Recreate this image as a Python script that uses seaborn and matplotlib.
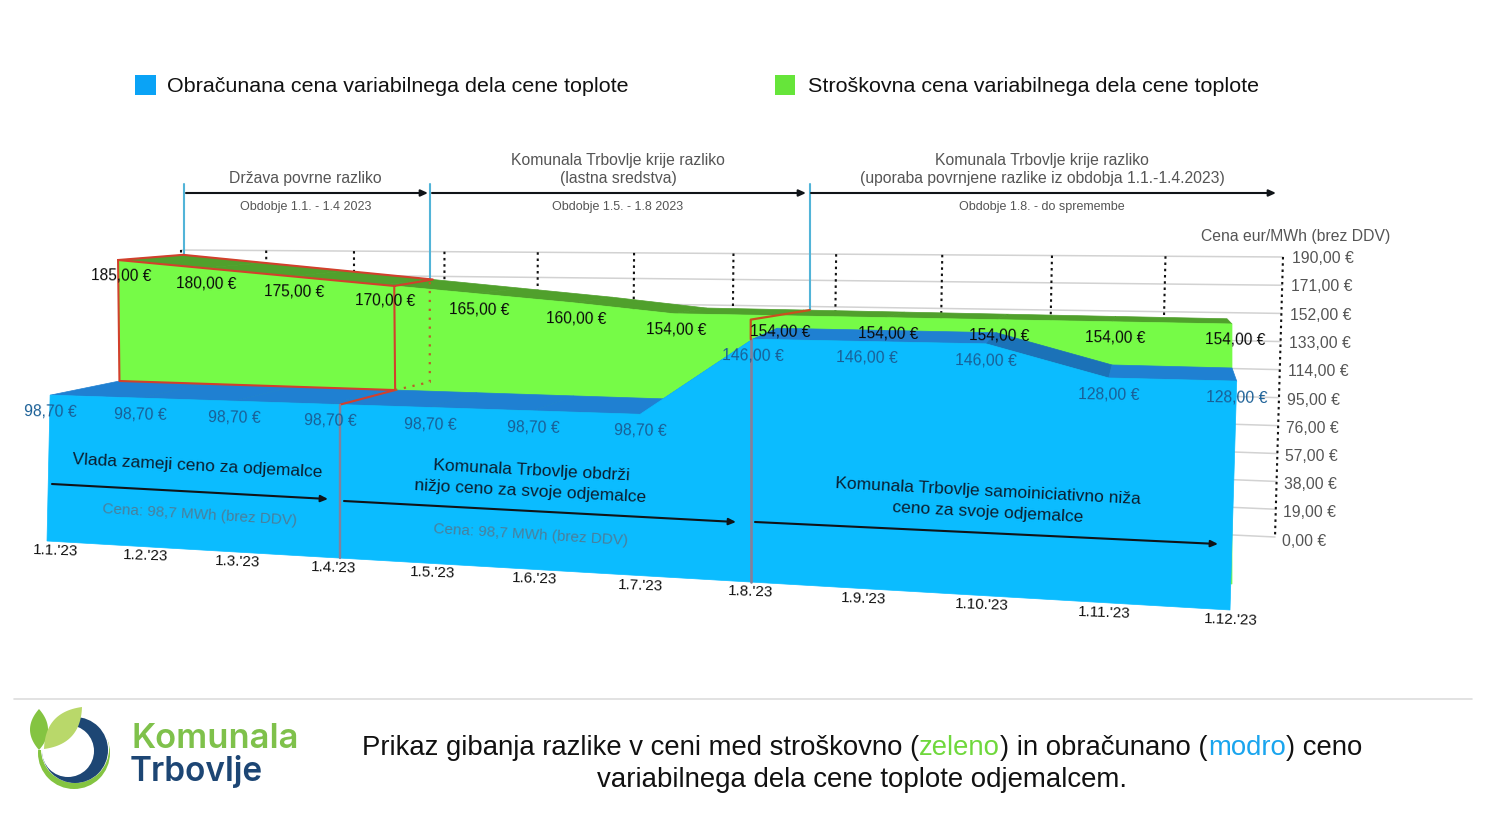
#!/usr/bin/env python3
# -*- coding: utf-8 -*-
"""
Prikaz gibanja razlike med stroskovno in obracunano ceno toplote (3D pogled)
"""

import numpy as np
import pandas as pd
import matplotlib
matplotlib.use('Agg')
import matplotlib.pyplot as plt
from matplotlib.patches import Rectangle, Polygon, Circle, Wedge
import seaborn as sns

# podatki
months = ["1.1.'23", "1.2.'23", "1.3.'23", "1.4.'23", "1.5.'23", "1.6.'23",
          "1.7.'23", "1.8.'23", "1.9.'23", "1.10.'23", "1.11.'23", "1.12.'23"]
billed_price = [98.7, 98.7, 98.7, 98.7, 98.7, 98.7, 98.7, 146, 146, 146, 128, 128]
cost_price = [185, 180, 175, 170, 165, 160, 154, 154, 154, 154, 154, 154]
axis_ticks = [190, 171, 152, 133, 114, 95, 76, 57, 38, 19, 0]

BLUE = '#0bbcff'
BLUE_TOP = '#1f80d2'
BLUE_SLOPE = '#1b72b8'
GREEN = '#76fb47'
GREEN_TOP = '#50a02c'
RED = '#d2402c'
GREY = '#555555'
N = len(months) - 1
VMAX = 190.0


def make_plane(corners):
    """Homografija iz (mesec, cena) v piksle; vogali: (0,0), (N,0), (0,max), (N,max)."""
    src = [(0, 0), (1, 0), (0, 1), (1, 1)]
    a, b = [], []
    for (u, v), (x, y) in zip(src, corners):
        a.append([u, v, 1, 0, 0, 0, -u * x, -v * x])
        a.append([0, 0, 0, u, v, 1, -u * y, -v * y])
        b += [x, y]
    h = np.append(np.linalg.solve(np.array(a, float), np.array(b, float)), 1).reshape(3, 3)

    def project(m, value):
        m, value = np.atleast_1d(m, value)
        p = np.stack([m / N, value / VMAX, np.ones_like(m / N)])
        q = h @ p
        return q[0] / q[2], q[1] / q[2]
    return project


# ravnine perspektive: modra spredaj, modra zadaj / zelena spredaj, zelena zadaj, zadnja stena
front = make_plane([(47, 541), (1230, 610), (53, 260), (1240, 270)])
middle = make_plane([(121, 519), (1232, 584), (118, 253), (1232, 263)])
back = make_plane([(183, 508), (1227, 570), (183, 248), (1227, 260)])
wall = make_plane([(183, 485), (1275, 537), (181, 250), (1283, 257)])

sns.set_theme(style='white')
plt.rcParams['font.family'] = ['Liberation Sans', 'DejaVu Sans']

fig = plt.figure(figsize=(14.9, 8.31), dpi=100)
ax = fig.add_axes([0, 0, 1, 1])
ax.set_xlim(0, 1490)
ax.set_ylim(831, 0)
ax.axis('off')

idx = np.arange(len(months), dtype=float)
blue = np.array(billed_price, dtype=float)
green = np.array(cost_price, dtype=float)


def line(x, y, **kw):
    df = pd.DataFrame({'x': np.ravel(x), 'y': np.ravel(y)})
    sns.lineplot(data=df, x='x', y='y', ax=ax, sort=False, estimator=None,
                 legend=False, **kw)


def area(plane, values):
    x0, y0 = plane(idx, np.zeros_like(idx))
    x1, y1 = plane(idx, values)
    return np.r_[np.c_[x1, y1], np.c_[x0, y0][::-1]]


def band(p_near, p_far, values, colors, z):
    xa, ya = p_near(idx, values)
    xb, yb = p_far(idx, values)
    for i in range(N):
        color = colors(i) if callable(colors) else colors
        ax.add_patch(Polygon([(xa[i], ya[i]), (xa[i + 1], ya[i + 1]),
                              (xb[i + 1], yb[i + 1]), (xb[i], yb[i])],
                             closed=True, fc=color, ec=color, lw=0.5, zorder=z))


# zadnja stena
for tick in axis_ticks:
    x, y = wall(np.array([0.0, N]), np.array([tick, tick], float))
    line(x, y, color='#d2d2d2', linewidth=1.1, zorder=1)
    xr, yr = wall(np.array([float(N)]), np.array([float(tick)]))
    drop = (VMAX - tick) / VMAX
    ax.text(xr[0] + 9 - 2 * drop, yr[0] + 1 + 3 * drop, f'{tick},00 €', fontsize=11.3, color=GREY,
            va='center', ha='left')
for i in idx:
    x, y = wall(np.array([i, i]), np.array([VMAX, 0.0]))
    line(x, y, color='#111111', linewidth=1.5, linestyle=(0, (1.2, 1.8)), zorder=1.5)

# zelena ploskev
band(middle, back, green, GREEN_TOP, 2)
ax.add_patch(Polygon(area(middle, green), closed=True, fc=GREEN, ec=GREEN, lw=0.5, zorder=3))

# modra ploskev
band(front, middle, blue, lambda i: BLUE_SLOPE if i == 9 else BLUE_TOP, 4)
ax.add_patch(Polygon(area(front, blue), closed=True, fc=BLUE, ec=BLUE, lw=0.5, zorder=5))

# rdeca oznaka prvega obdobja
m_front, m_middle, m_back = 3.1, 3.13, 3.0
gx, gy = middle(np.array([0.0, m_middle]), np.interp([0.0, m_middle], idx, green))
bx, by = middle(np.array([0.0, m_middle]), np.interp([0.0, m_middle], idx, blue))
tx, ty = back(np.array([0.0, 1.0, 2.0, m_back]), green[[0, 1, 2, 3]])
fx, fy = front(np.array([m_front]), np.interp([m_front], idx, blue))
line([gx[0], tx[0], tx[3], gx[1], gx[0], bx[0], bx[1], gx[1]],
     [gy[0], ty[0], ty[3], gy[1], gy[0], by[0], by[1], gy[1]],
     color=RED, linewidth=1.5, zorder=6)
line([bx[1], fx[0]], [by[1], fy[0]], color=RED, linewidth=1.5, zorder=6)
wx, wy = back(np.array([m_back, m_back]), np.array([blue[3], green[3]]))
line([bx[1], wx[0] - 3, wx[1] - 3], [by[1], by[1] - 8, wy[1]], color='#b8602a', linewidth=1.6,
     linestyle=(0, (1, 3)), zorder=6)

# razdelilni crti na prednji strani
bx3, by3 = front(np.array([m_front]), np.array([0.0]))
line([fx[0], fx[0]], [fy[0], by3[0]], color='#84809a', linewidth=1.7, zorder=6)
sx, sy = front(np.array([7.0, 7.0]), np.array([blue[7], 0.0]))
line([sx[0] - 2, sx[0] - 2], [sy[0], sy[1]], color='#84809a', linewidth=1.9, zorder=6)
mx, my = middle(np.array([7.0]), np.array([green[7]]))
kx, ky = back(np.array([7.0]), np.array([green[7]]))
line([kx[0] + 6, sx[0] - 2, sx[0] - 2], [ky[0], my[0] + 4, sy[0]], color='#c8501e',
     linewidth=1.6, zorder=6)

# modre navpicnice do obdobij
for m, dx in [(0.0, 1), (3.0, -3), (7.0, 6)]:
    vx, vy = back(np.array([m]), np.array([green[int(m)]]))
    line([vx[0] + dx, vx[0] + dx], [184, vy[0]], color='#52b4d8', linewidth=1.5, zorder=2.5)

# oznake vrednosti
for i, m in enumerate(idx):
    x, y = middle(np.array([m]), np.array([green[i]]))
    ax.text(x[0] + 3, y[0] + 16, f'{cost_price[i]:.2f} €'.replace('.', ','), fontsize=11.2,
            color='#0a0a0a', ha='center', va='center', rotation=-1, zorder=8)
    x, y = front(np.array([m]), np.array([blue[i]]))
    ax.text(x[0], y[0] + 17, f'{billed_price[i]:.2f} €'.replace('.', ','), fontsize=11.3,
            color='#1a5f96', ha='center', va='center', rotation=-1, zorder=8)
    x, y = front(np.array([m]), np.array([0.0]))
    ax.text(x[0] + 9 - 0.73 * m, y[0] + 10, months[i], fontsize=11, color='#111111',
            ha='center', va='center', rotation=-2, zorder=8)


def arrow(x0, y0, x1, y1, z=7):
    ax.annotate('', xy=(x1, y1), xytext=(x0, y0), zorder=z,
                arrowprops=dict(arrowstyle='-|>,head_length=0.35,head_width=0.16',
                                color='#101418', lw=1.5, shrinkA=0, shrinkB=0))


# obdobja nad grafom
arrow(186, 193, 428, 193)
arrow(432, 193, 806, 193)
arrow(811, 193, 1276, 193)
ax.text(305, 178, 'Država povrne razliko', fontsize=11.3, color=GREY, ha='center', va='center')
ax.text(306, 207, 'Obdobje 1.1. - 1.4 2023', fontsize=9, color=GREY, ha='center', va='center')
ax.text(618, 170, 'Komunala Trbovlje krije razliko\n(lastna sredstva)', fontsize=11.3, color=GREY,
        ha='center', va='center', linespacing=1.25)
ax.text(618, 207, 'Obdobje 1.5. - 1.8 2023', fontsize=9, color=GREY, ha='center', va='center')
ax.text(1042, 170, 'Komunala Trbovlje krije razliko\n(uporaba povrnjene razlike iz obdobja 1.1.-1.4.2023)',
        fontsize=11.3, color=GREY, ha='center', va='center', linespacing=1.25)
ax.text(1042, 207, 'Obdobje 1.8. - do spremembe', fontsize=9, color=GREY, ha='center', va='center')
ax.text(1296, 236, 'Cena eur/MWh (brez DDV)', fontsize=11.3, color=GREY, ha='center', va='center')

# besedilo na prednji strani
arrow(52, 484, 328, 499)
arrow(344, 501, 736, 522)
arrow(755, 522, 1218, 544)
ink = '#0a1e30'
ax.text(197, 466, 'Vlada zameji ceno za odjemalce', fontsize=12.5, color=ink, ha='center',
        va='center', rotation=-3, rotation_mode='anchor', zorder=8)
ax.text(200, 515, 'Cena: 98,7 MWh (brez DDV)', fontsize=11, color='#4a7f9c', ha='center',
        va='center', rotation=-3.5, rotation_mode='anchor', zorder=8)
ax.text(531, 481, 'Komunala Trbovlje obdrži\nnižjo ceno za svoje odjemalce', fontsize=12.5, color=ink,
        ha='center', va='center', rotation=-3, rotation_mode='anchor', linespacing=1.5, zorder=8)
ax.text(531, 535, 'Cena: 98,7 MWh (brez DDV)', fontsize=11, color='#4a7f9c', ha='center',
        va='center', rotation=-3.5, rotation_mode='anchor', zorder=8)
ax.text(988, 502, 'Komunala Trbovlje samoiniciativno niža\nceno za svoje odjemalce', fontsize=12.5,
        color=ink, ha='center', va='center', rotation=-3, rotation_mode='anchor', linespacing=1.5, zorder=8)

# legenda
ax.add_patch(Rectangle((135, 75), 21, 20, fc='#0aa3f6', ec='none'))
ax.add_patch(Rectangle((775, 75), 20, 20, fc='#66e53a', ec='none'))
ax.text(167, 86, 'Obračunana cena variabilnega dela cene toplote', fontsize=15.45, color='#111111', va='center')
ax.text(808, 86, 'Stroškovna cena variabilnega dela cene toplote', fontsize=15.45, color='#111111', va='center')

# noga
line([14, 1472], [699, 699], color='#dddddd', linewidth=1.2)


def colored_line(parts, cx, y, size):
    renderer = fig.canvas.get_renderer()
    probe = ax.text(0, y, ''.join(s for s, _ in parts), fontsize=size)
    total = probe.get_window_extent(renderer).width
    probe.remove()
    x = cx - total / 2
    prefix = ''
    for s, c in parts:
        # polozaj iz sirine dosedanjega niza, da presledki ostanejo
        p = ax.text(0, y, prefix + s + '|', fontsize=size)
        q = ax.text(0, y, s + '|', fontsize=size)
        start = p.get_window_extent(renderer).width - q.get_window_extent(renderer).width
        p.remove()
        q.remove()
        ax.text(x + start, y, s, color=c, fontsize=size, va='center', ha='left')
        prefix += s


colored_line([('Prikaz gibanja razlike v ceni med stroškovno (', '#111111'), ('zeleno', '#6fd83c'),
              (') in obračunano (', '#111111'), ('modro', '#1aa5ee'), (') ceno', '#111111')],
             862, 748, 19.8)
ax.text(862, 780, 'variabilnega dela cene toplote odjemalcem.', fontsize=19.9, color='#111111',
        ha='center', va='center')


def leaf(p0, p1, bulge, color):
    # list kot leca med dvema konicama
    p0, p1 = np.array(p0, float), np.array(p1, float)
    t = np.linspace(0, 1, 30)
    d = p1 - p0
    n = np.array([-d[1], d[0]]) / np.hypot(*d)
    curve = 4 * t * (1 - t) * bulge
    side_a = p0 + np.outer(t, d) + np.outer(curve, n)
    side_b = p0 + np.outer(t, d) - np.outer(curve, n)
    ax.add_patch(Polygon(np.r_[side_a, side_b[::-1]], closed=True, fc=color, ec='none', zorder=6))


# logotip
ax.add_patch(Circle((74, 753), 36, fc='#84c441', ec='none', zorder=2))
ax.add_patch(Circle((75, 749), 34, fc='white', ec='none', zorder=3))
ax.add_patch(Circle((75, 750), 33, fc='#1d4674', ec='none', zorder=4))
ax.add_patch(Circle((68, 751), 26, fc='white', ec='none', zorder=5))
ax.add_patch(Wedge((68, 750), 44, 180, 285, fc='white', ec='none', zorder=5))
leaf((39, 709), (39, 750), 9, '#84c441')
leaf((44, 749), (82, 707), 12, '#b9d86a')
ax.text(131, 739, 'Komunala', fontsize=24.8, color='#7fc14b', family=['Inter', 'DejaVu Sans'],
        fontweight='semibold', va='center')
ax.text(130, 772, 'Trbovlje', fontsize=24, color='#1d4674', family=['Inter', 'DejaVu Sans'],
        fontweight='semibold', va='center')

ax.set_xlim(0, 1490)
ax.set_ylim(831, 0)
ax.axis('off')
fig.savefig('out.png', dpi=100)
